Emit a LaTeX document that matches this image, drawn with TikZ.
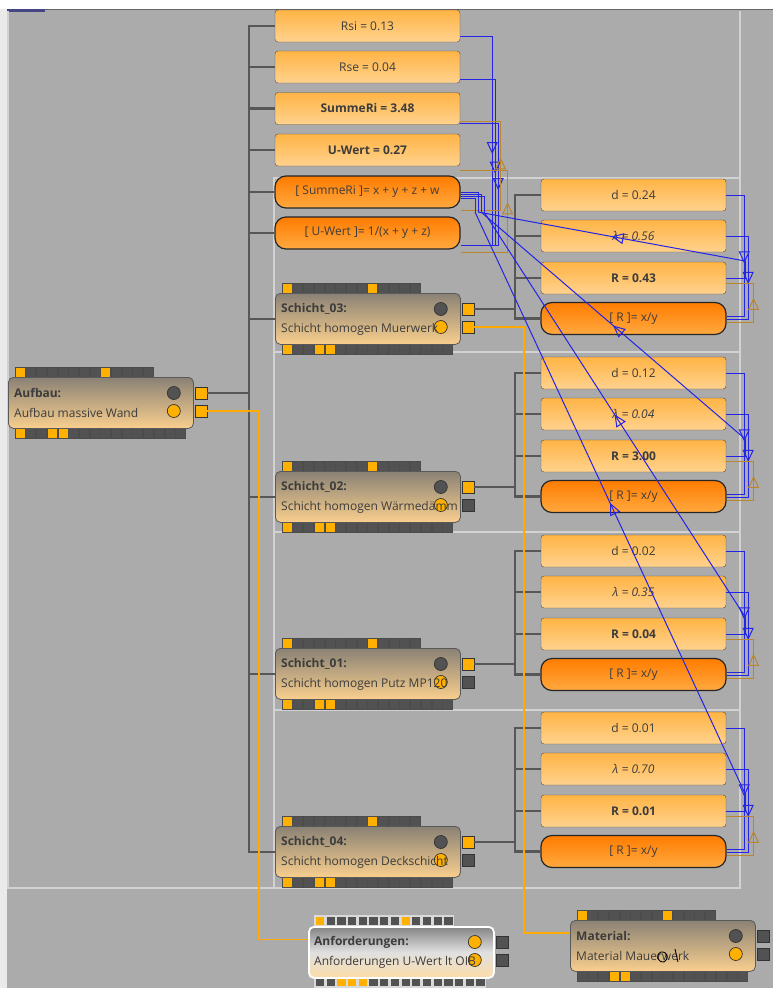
\documentclass[tikz,border=0pt]{standalone}
\usepackage{fontspec}
\setmainfont{Open Sans}
\usetikzlibrary{arrows.meta, decorations.markings}
\definecolor{bggray}{HTML}{ABABAB}
\definecolor{framegray}{HTML}{D2D2D2}
\definecolor{treegray}{HTML}{575757}
\definecolor{txtgray}{HTML}{3C3C3C}
\definecolor{valtop}{HTML}{FFB445}
\definecolor{valbot}{HTML}{FFD28E}
\definecolor{formtop}{HTML}{FF7C00}
\definecolor{formbot}{HTML}{FFA940}
\definecolor{modtop}{HTML}{8A8275}
\definecolor{modbot}{HTML}{F9CF8E}
\definecolor{anfbot}{HTML}{FCDDA8}
\definecolor{portorange}{HTML}{FFB000}
\definecolor{portdark}{HTML}{525252}
\definecolor{refblue}{HTML}{2424E6}
\definecolor{refbrown}{HTML}{B8862E}
\definecolor{wireorange}{HTML}{FFAA00}
\newcommand{\valfont}{\fontsize{12}{14}\selectfont}

% module block: name, left, top, title, text, port1, port2, lamp1, bottom oranges
\newcommand{\modblock}[9]{%
  \foreach \k in {0,...,12} \draw[stripsq] ({#2+7+10.7*\k},{#3-10}) rectangle ++(10,10);
  \foreach \k in {0,8} \draw[stripsq, fill=portorange] ({#2+7+10.7*\k},{#3-10}) rectangle ++(10,10);
  \foreach \k in {0,...,15} \draw[stripsq] ({#2+7+10.7*\k},{#3+51}) rectangle ++(10,10);
  \foreach \k in {#9} \draw[stripsq, fill=portorange] ({#2+7+10.7*\k},{#3+51}) rectangle ++(10,10);
  \node[modbox, anchor=north west] (#1) at (#2,#3) {};
  \node[lamp, fill=#8] (#1c1) at ([xshift=-20pt,yshift=-16pt]#1.north east) {};
  \node[lamp, fill=portorange] (#1c2) at ([xshift=-20pt,yshift=-34pt]#1.north east) {};
  \node[modtitle] (#1t) at ([xshift=6pt,yshift=-16pt]#1.north west) {#4};
  \node[modtext] (#1s) at ([xshift=6pt,yshift=-36pt]#1.north west) {#5};
  \node[port, fill=#6] (#1p1) at ([xshift=7pt,yshift=-16pt]#1.north east) {};
  \node[port, fill=#7] (#1p2) at ([xshift=7pt,yshift=-34pt]#1.north east) {};
}

\begin{document}
\begin{tikzpicture}[x=1pt, y=-1pt,
    valbox/.style={draw=black!70, rounded corners=3pt, minimum width=185pt,
                   minimum height=32pt, inner sep=0pt, top color=valtop,
                   bottom color=valbot, text=txtgray, font=\valfont},
    formbox/.style={valbox, rounded corners=11pt, draw=black!85,
                    line width=1.2pt, top color=formtop, bottom color=formbot},
    modbox/.style={draw=black!65, rounded corners=5pt, minimum width=185pt,
                   minimum height=51pt, inner sep=0pt, line width=0.8pt,
                   top color=modtop, bottom color=modbot},
    modtitle/.style={anchor=west, inner sep=0pt, text=txtgray, font=\valfont\bfseries},
    modtext/.style={anchor=west, inner sep=0pt, text=txtgray, font=\valfont},
    lamp/.style={circle, draw=black!80, minimum size=13pt, inner sep=0pt, line width=0.7pt},
    port/.style={draw=black!80, minimum size=12pt, inner sep=0pt, line width=0.6pt},
    stripsq/.style={draw=black!70, fill=portdark, line width=0.5pt},
    tree/.style={draw=treegray, line width=2.4pt},
    wire/.style={draw=wireorange, line width=1.8pt},
    inp/.style={draw=refblue, line width=1pt},
    outp/.style={draw=refbrown, line width=1pt},
    midarrow/.style={postaction={decorate}, decoration={markings,
        mark=at position #1 with {\arrow{Triangle[open, length=12pt, width=11pt]}}}},
    midarrow/.default=0.55
  ]
  \useasboundingbox (0,0) rectangle (773,988);

  %% background and panels
  \fill[bggray] (0,0) rectangle (773,988);
  \fill[white] (0,0) rectangle (773,9);
  \fill[white!75!bggray] (0,9) rectangle (7,988);
  \draw[black!60, line width=1.5pt] (7,9.5) -- (773,9.5);
  \fill[black!45!blue!45!gray] (7,8.5) rectangle (45,12);
  \draw[framegray, line width=1.5pt] (8,11) -- (8,888) -- (740,888) -- (740,11);
  \draw[framegray, line width=1.5pt] (274,888) -- (274,178) -- (740,178);
  \foreach \y in {352,532,710} \draw[framegray, line width=1.5pt] (274,\y) -- (740,\y);

  %% value and formula nodes, top
  \node[valbox] (rsi) at (367.5,26) {Rsi = 0.13};
  \node[valbox] (rse) at (367.5,67) {Rse = 0.04};
  \node[valbox, font=\valfont\bfseries] (sumv) at (367.5,108.5) {SummeRi = 3.48};
  \node[valbox, font=\valfont\bfseries] (uwv) at (367.5,150) {U-Wert = 0.27};
  \node[formbox] (sumf) at (367.5,192) {[ SummeRi ]= x + y + z + w};
  \node[formbox] (uwf) at (367.5,233) {[ U-Wert ]= 1/(x + y + z)};

  %% modules
  \modblock{aufbau}{8}{377}{Aufbau:}{Aufbau massive Wand}{portorange}{portorange}{portdark}{0,3,4}
  \modblock{s03}{275}{293}{Schicht\_03:}{Schicht homogen Muerwerk}{portorange}{portorange}{portdark}{0,3,4}
  \modblock{s02}{275}{471}{Schicht\_02:}{Schicht homogen Wärmedämm}{portorange}{portdark}{portdark}{0,3,4}
  \modblock{s01}{275}{648}{Schicht\_01:}{Schicht homogen Putz MP120}{portorange}{portdark}{portdark}{0,3,4}
  \modblock{s04}{275}{826}{Schicht\_04:}{Schicht homogen Deckschicht}{portorange}{portdark}{portdark}{0,3,4}
  \modblock{mat}{570}{920}{Material:}{Material Mauerwerk}{portdark}{portdark}{portdark}{3,4}
  \begin{scope}[modbox/.append style={draw=white, line width=1.8pt, top color=black!48,
                  bottom color=anfbot, middle color=white!88!black},
                stripsq/.append style={draw=white!85!black, line width=1.8pt}]
    \modblock{anf}{308}{926}{Anforderungen:}{Anforderungen U-Wert lt OIB}{portdark}{portdark}{portorange}{2,3,4}
  \end{scope}
  \draw[black, line width=0.9pt] (661,952) .. controls (655,955) and (657,962) .. (664,962)
    .. controls (669,960) and (668,951) .. (661,952) (675,949) -- (678,962);

  %% layer groups
  \foreach \g/\o/\dv/\lv/\rv in {3/0/0.24/0.56/0.43, 2/178/0.12/0.04/3.00,
                                 1/356/0.02/0.35/0.04, 4/533/0.01/0.70/0.01} {
    \node[valbox] (d\g) at (633.5,195+\o) {d = \dv};
    \node[valbox] (l\g) at (633.5,236+\o) {\itshape λ = \lv};
    \node[valbox, font=\valfont\bfseries] (r\g) at (633.5,278+\o) {R = \rv};
    \node[formbox] (f\g) at (633.5,318.5+\o) {[ R ]= x/y};
    \foreach \n in {d,l,r,f} \draw[tree] (s0\g p1.east) -- ++(41,0) |- (\n\g.west);
  }

  %% main tree
  \foreach \n in {rsi,rse,sumv,uwv,sumf,uwf,s03,s02,s01,s04}
    \draw[tree] (aufbaup1.east) -- ++(42,0) |- (\n.west);

  %% orange links
  \draw[wire] (aufbaup2.east) -- ++(52,0) |- ([yshift=13pt]anf.west);
  \draw[wire] (s03p2.east) -- ++(50,0) |- ([yshift=13pt]mat.west);

  %% formula references
  \draw[inp, midarrow] ([yshift=6pt]rsi.south east) -- ++(32,0) |- ([yshift=-12pt]uwf.east);
  \draw[inp, midarrow] ([yshift=4pt]rse.south east) -- ++(35,0) |- ([yshift=-12pt]uwf.east);
  \draw[inp, midarrow=0.53] ([yshift=1pt]sumv.south east) -- ++(38,0) |- ([yshift=-12pt]uwf.east);
  \draw[outp, midarrow] ([yshift=-2pt]sumf.south east) -- ++(40,0) |- ([yshift=3pt]sumv.south east);
  \draw[outp, midarrow] ([yshift=-3pt]uwf.south east) -- ++(47,0) |- ([yshift=-4pt]uwv.south east);
  \foreach \g/\x/\s in {3/478/0pt, 2/481/-2pt, 1/484/-4pt, 4/475/-6pt} {
    \draw[inp, midarrow] (d\g.east) -- ++(18,0) |- ([yshift=2pt]f\g.east);
    \draw[inp, midarrow] (l\g.east) -- ++(22,0) |- ([yshift=-1pt]f\g.east);
    \draw[outp, midarrow] ([yshift=-4pt]f\g.east) -- ++(27,0) |- ([yshift=-5pt]r\g.east);
    \draw[inp] (r\g.east) -- ++(19,0) -- ++(0,-17) coordinate (re\g);
    \draw[inp, midarrow=0.5] (re\g) -- (\x,212) coordinate (rs\g);
    \draw[inp] (rs\g) |- ([yshift=\s]sumf.east);
  }
\end{tikzpicture}
\end{document}
